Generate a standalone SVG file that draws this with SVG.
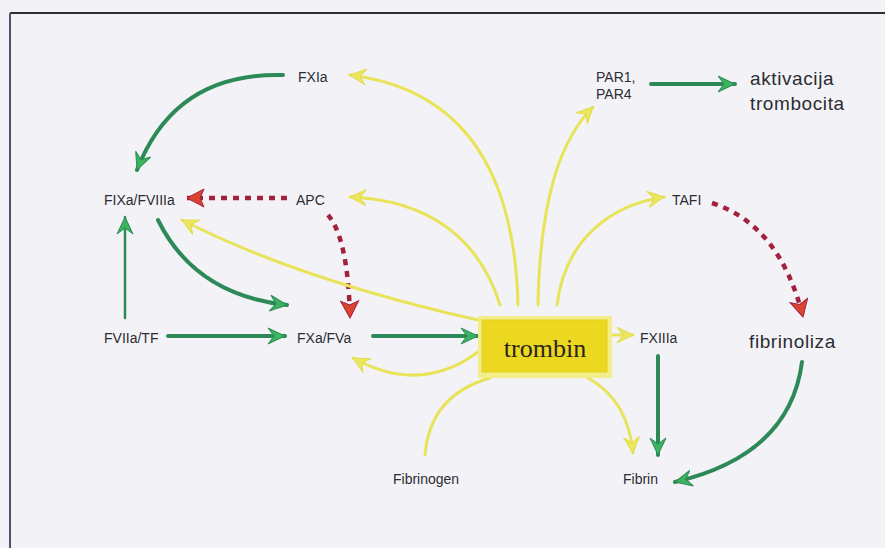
<svg xmlns="http://www.w3.org/2000/svg" width="885" height="548" viewBox="0 0 885 548">
<style>
  .lbl { font-family: "Liberation Sans", Arial, sans-serif; font-size: 14px; fill: #2c2c34; }
  .big { font-family: "Liberation Sans", Arial, sans-serif; font-size: 19px; fill: #2c2c34; letter-spacing: 0.6px; }
  .green { fill: none; stroke: #2d8a58; stroke-width: 4; stroke-linecap: round; }
  .greenthin { fill: none; stroke: #2d8a58; stroke-width: 2.5; stroke-linecap: round; }
  .yellow { fill: none; stroke: #e9e35a; stroke-width: 3; stroke-linecap: round; }
  .red { fill: none; stroke: #a3213c; stroke-width: 4.5; stroke-dasharray: 6 6; }
</style>
<defs>
  <marker id="gh" markerUnits="userSpaceOnUse" viewBox="-20 -10 22 20" refX="0" refY="0" markerWidth="22" markerHeight="20" orient="auto">
    <path d="M0,0 L-17,-8 L-11,0 L-17,8 Z" fill="#3cb35e" stroke="#2d8a58" stroke-width="1"/>
  </marker>
  <marker id="yh" markerUnits="userSpaceOnUse" viewBox="-20 -10 22 20" refX="0" refY="0" markerWidth="22" markerHeight="20" orient="auto">
    <path d="M0,0 L-16,-8 L-10,0 L-16,8 Z" fill="#ece660" stroke="#e3dc48" stroke-width="1"/>
  </marker>
  <marker id="rh" markerUnits="userSpaceOnUse" viewBox="-20 -10 22 20" refX="0" refY="0" markerWidth="22" markerHeight="20" orient="auto">
    <path d="M0,0 L-17,-9 L-13,0 L-17,9 Z" fill="#dc4430" stroke="#a3213c" stroke-width="1"/>
  </marker>
</defs>
<rect x="0" y="0" width="885" height="548" fill="#f3f3f7"/>
<line x1="10" y1="13" x2="885" y2="13" stroke="#2e2e34" stroke-width="2"/>
<line x1="10" y1="13" x2="10" y2="548" stroke="#5c4c70" stroke-width="2"/>

<g id="connectors">
  <!-- green -->
  <path class="green" d="M283,75 Q175,72 137,170" marker-end="url(#gh)"/>
  <path class="greenthin" d="M125,318 L125,217" marker-end="url(#gh)"/>
  <path class="green" d="M158,220 Q195,295 287,305" marker-end="url(#gh)"/>
  <path class="green" d="M168,336 L285,336" marker-end="url(#gh)"/>
  <path class="green" d="M373,336 L478,336" marker-end="url(#gh)"/>
  <path class="green" d="M651,84 L735,84" marker-end="url(#gh)"/>
  <path class="green" d="M658,356 L658,455" marker-end="url(#gh)"/>
  <path class="green" d="M802,362 Q790,455 675,482" marker-end="url(#gh)"/>
  <!-- red dashed -->
  <path class="red" d="M287,198 L187,198" marker-end="url(#rh)"/>
  <path class="red" d="M328,215 Q348,238 350,318" marker-end="url(#rh)"/>
  <path class="red" d="M712,203 Q780,225 803,317" marker-end="url(#rh)"/>
  <!-- yellow -->
  <path class="yellow" d="M518,305 C515,180 470,90 350,75" marker-end="url(#yh)"/>
  <path class="yellow" d="M538,305 C540,200 560,140 593,107" marker-end="url(#yh)"/>
  <path class="yellow" d="M500,305 C480,240 430,200 350,197" marker-end="url(#yh)"/>
  <path class="yellow" d="M557,305 C565,240 610,205 664,197" marker-end="url(#yh)"/>
  <path class="yellow" d="M478,320 Q300,280 182,220" marker-end="url(#yh)"/>
  <path class="yellow" d="M478,352 Q420,395 353,358" marker-end="url(#yh)"/>
  <path class="yellow" d="M425,455 Q430,395 490,378"/>
  <path class="yellow" d="M588,378 Q628,400 633,453" marker-end="url(#yh)"/>
  <path class="yellow" d="M613,335 L633,335" marker-end="url(#yh)"/>
</g>

<g id="trombin">
  <rect x="478" y="316" width="134" height="62" fill="#f3ed8c"/>
  <rect x="482" y="320" width="125" height="52" fill="#ecd821" stroke="#e4d01a" stroke-width="1"/>
  <text x="545" y="357" text-anchor="middle" font-family="Liberation Serif, 'Times New Roman', serif" font-size="26" fill="#2a2418">trombin</text>
</g>
<g id="FXIa"><text class="lbl" x="298" y="82">FXIa</text></g>
<g id="PAR"><text class="lbl" x="596" y="82">PAR1,</text><text class="lbl" x="596" y="99">PAR4</text></g>
<g id="aktivacija"><text class="big" x="750" y="85">aktivacija</text><text class="big" x="750" y="110">trombocita</text></g>
<g id="FIXa"><text class="lbl" x="104" y="205">FIXa/FVIIIa</text></g>
<g id="APC"><text class="lbl" x="296" y="205">APC</text></g>
<g id="TAFI"><text class="lbl" x="672" y="205">TAFI</text></g>
<g id="FVIIa"><text class="lbl" x="104" y="343">FVIIa/TF</text></g>
<g id="FXa"><text class="lbl" x="297" y="343">FXa/FVa</text></g>
<g id="FXIIIa"><text class="lbl" x="640" y="343">FXIIIa</text></g>
<g id="fibrinoliza"><text class="big" x="749" y="348">fibrinoliza</text></g>
<g id="Fibrinogen"><text class="lbl" x="393" y="484">Fibrinogen</text></g>
<g id="Fibrin"><text class="lbl" x="623" y="484">Fibrin</text></g>
</svg>
